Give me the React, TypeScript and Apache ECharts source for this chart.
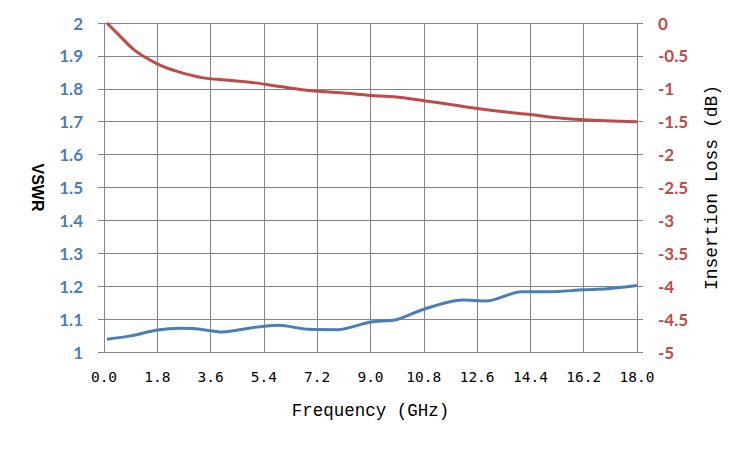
import React, { useEffect, useRef } from "react";
import * as echarts from "echarts";

const freqVswr = [0.1, 0.9, 1.8, 2.6, 3.1, 4.0, 5.0, 5.9, 6.9, 7.9, 9.0, 9.9, 10.8, 12.1, 12.9, 14.1, 15.0, 16.2, 17.0, 18.0];
const vswr = [1.039, 1.049, 1.067, 1.072, 1.071, 1.061, 1.074, 1.081, 1.069, 1.068, 1.091, 1.099, 1.13, 1.158, 1.155, 1.183, 1.183, 1.189, 1.192, 1.202];

const freqIL = [0.1, 0.5, 1.05, 1.8, 2.5, 3.3, 4.2, 5.1, 6.0, 7.0, 8.0, 9.0, 9.8, 10.8, 11.7, 12.6, 13.5, 14.4, 15.3, 16.2, 18.0];
const insertionLoss = [0, -0.18, -0.42, -0.62, -0.74, -0.83, -0.87, -0.91, -0.97, -1.03, -1.06, -1.1, -1.12, -1.18, -1.24, -1.3, -1.35, -1.39, -1.44, -1.47, -1.5];

const xTitle = "Frequency (GHz)";
const leftTitle = "VSWR";
const rightTitle = "Insertion Loss (dB)";

const BLUE = "#4A7EBB";
const RED = "#BE4B48";
const GRID = "#868686";
const MONO = "'Liberation Mono', 'DejaVu Sans Mono', monospace";
const SANS = "Lato, 'Noto Sans', sans-serif";

export default function App() {
  const ref = useRef<HTMLDivElement>(null);
  useEffect(() => {
    document.body.style.margin = "0";
    const chart = echarts.init(ref.current!, null, { renderer: "svg" });
    chart.setOption({
      animation: false,
      backgroundColor: "#fff",
      grid: { left: 104, right: 113, top: 23, bottom: 98 },
      xAxis: {
        type: "value",
        min: 0,
        max: 18,
        interval: 1.8,
        name: xTitle,
        nameLocation: "middle",
        nameGap: 50,
        nameTextStyle: { fontFamily: MONO, fontSize: 17.5, color: "#000" },
        axisLine: { show: true, lineStyle: { color: GRID, width: 1 } },
        axisTick: { show: true, length: 6, lineStyle: { color: GRID } },
        axisLabel: {
          fontFamily: "'DejaVu Sans Mono', monospace",
          fontSize: 14.5,
          color: "#000",
          margin: 17,
          formatter: (v: number) => v.toFixed(1),
        },
        splitLine: { show: true, lineStyle: { color: GRID, width: 1 } },
      },
      yAxis: [
        {
          type: "value",
          min: 1,
          max: 2,
          interval: 0.1,
          position: "left",
          name: leftTitle,
          nameLocation: "middle",
          nameRotate: -90,
          nameGap: 59,
          nameTextStyle: { fontFamily: "'Liberation Sans', Arial, sans-serif", fontWeight: "bold", fontSize: 16, color: "#000" },
          axisLine: { show: true, lineStyle: { color: GRID, width: 1 } },
          axisTick: { show: true, length: 6, lineStyle: { color: GRID } },
          axisLabel: {
            fontFamily: SANS,
            fontWeight: "bold",
            fontSize: 17,
            color: BLUE,
            margin: 21,
            formatter: (v: number) => String(Math.round(v * 10) / 10),
          },
          splitLine: { show: true, lineStyle: { color: GRID, width: 1 } },
        },
        {
          type: "value",
          min: -5,
          max: 0,
          interval: 0.5,
          position: "right",
          name: rightTitle,
          nameLocation: "middle",
          nameRotate: 90,
          nameGap: 66,
          nameTextStyle: { fontFamily: MONO, fontSize: 18, color: "#000" },
          axisLine: { show: true, lineStyle: { color: GRID, width: 1 } },
          axisTick: { show: true, length: 6, lineStyle: { color: GRID } },
          axisLabel: {
            fontFamily: SANS,
            fontWeight: "bold",
            fontSize: 17,
            color: RED,
            margin: 21,
            formatter: (v: number) => String(Math.round(v * 10) / 10),
          },
          splitLine: { show: false },
        },
      ],
      series: [
        {
          type: "line",
          yAxisIndex: 0,
          smooth: 0.3,
          symbol: "none",
          lineStyle: { color: BLUE, width: 3 },
          data: freqVswr.map((f, i) => [f, vswr[i]]),
        },
        {
          type: "line",
          yAxisIndex: 1,
          smooth: 0.3,
          symbol: "none",
          lineStyle: { color: RED, width: 3 },
          data: freqIL.map((f, i) => [f, insertionLoss[i]]),
        },
      ],
    });
    return () => chart.dispose();
  }, []);
  return <div ref={ref} style={{ width: 750, height: 450 }} />;
}
